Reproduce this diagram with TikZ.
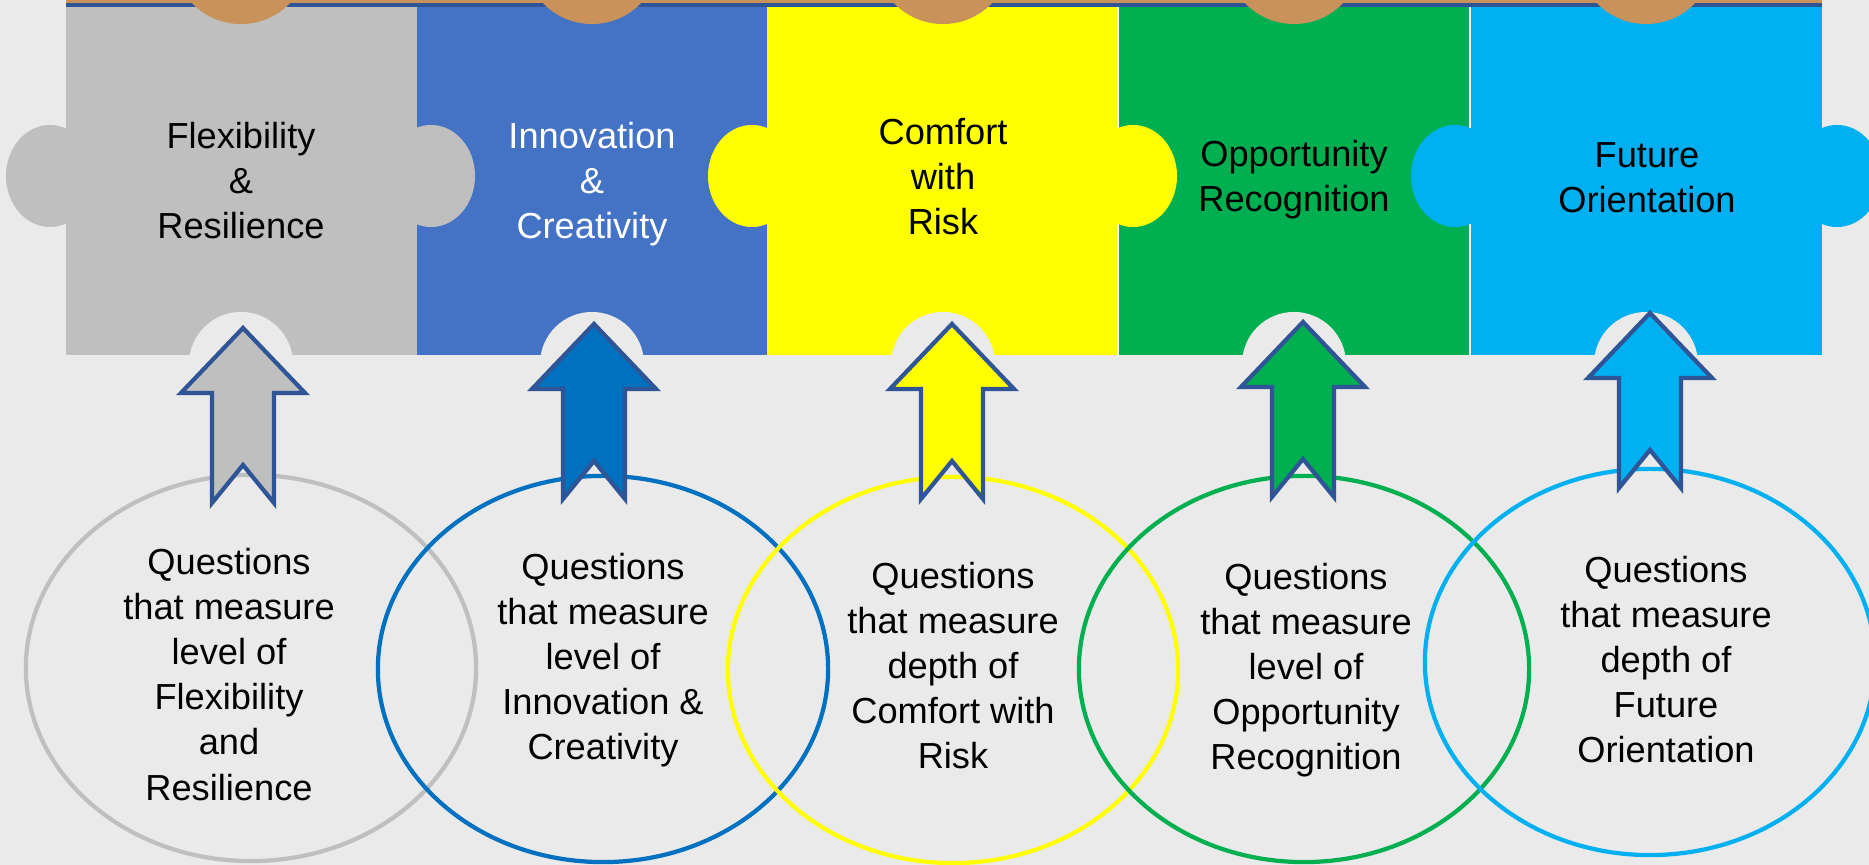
\documentclass[tikz,border=0pt]{standalone}
\usepackage{fontspec}
\setmainfont{Liberation Sans}
\usetikzlibrary{shapes.geometric}
\definecolor{paper}{HTML}{EAEAEA}
\definecolor{cork}{HTML}{C8925A}
\definecolor{rimblue}{HTML}{2F5597}
\definecolor{pgray}{HTML}{BFBFBF}
\definecolor{pblue}{HTML}{4472C4}
\definecolor{pyellow}{HTML}{FFFF00}
\definecolor{pgreen}{HTML}{00B050}
\definecolor{pcyan}{HTML}{00B0F0}
\definecolor{deepblue}{HTML}{0070C0}
\begin{document}
\begin{tikzpicture}[x=0.01cm,y=-0.01cm,
    txt/.style={align=center,inner sep=0pt,anchor=north,font=\fontsize{10.3}{12.8}\selectfont},
    ring/.style={ellipse,draw,line width=1.2pt,minimum width=4.5cm,minimum height=3.86cm,inner sep=0pt},
    uparrow/.style={draw=rimblue,line width=1.2pt,line join=miter}]
    \useasboundingbox (0,0) rectangle (1869,865);
    \clip (0,0) rectangle (1869,865);
    \fill[paper] (0,0) rectangle (1869,865);
    % puzzle pieces
    \fill[pgray] (66,5) rectangle (417,355);
    \fill[pblue] (417,5) rectangle (767,355);
    \fill[pyellow] (767,5) rectangle (1118,355);
    \fill[pgreen] (1118,5) rectangle (1470,355);
    \fill[pcyan] (1470,5) rectangle (1822,355);
    \draw[white, line width=0.4pt] (1118,7)--(1118,355) (1470,7)--(1470,355);
    % knobs
    \fill[pgray] (50,176) ellipse [x radius=0.44cm, y radius=0.51cm];
    \fill[pgray] (431,176) ellipse [x radius=0.44cm, y radius=0.51cm];
    \fill[pyellow] (752,176) ellipse [x radius=0.44cm, y radius=0.51cm];
    \fill[pyellow] (1133,176) ellipse [x radius=0.44cm, y radius=0.51cm];
    \fill[pcyan] (1455,176) ellipse [x radius=0.44cm, y radius=0.51cm];
    \fill[pcyan] (1837,176) ellipse [x radius=0.44cm, y radius=0.51cm];
    % sockets
    \fill[paper] (241,364) circle [radius=0.52cm];
    \fill[paper] (592,364) circle [radius=0.52cm];
    \fill[paper] (943,364) circle [radius=0.52cm];
    \fill[paper] (1294,364) circle [radius=0.52cm];
    \fill[paper] (1646,364) circle [radius=0.52cm];
    % cork board
    \draw[rimblue, line width=1pt] (66,5)--(1822,5);
    \fill[cork] (66,0) rectangle (1822,3.3);
    \fill[cork] (241,-44) circle [radius=0.68cm];
    \fill[cork] (592,-44) circle [radius=0.68cm];
    \fill[cork] (943,-44) circle [radius=0.68cm];
    \fill[cork] (1294,-44) circle [radius=0.68cm];
    \fill[cork] (1646,-44) circle [radius=0.68cm];
    \node[txt] (pflex) at (241,122) {Flexibility\\\&\\Resilience};
    \node[txt, white] (pinno) at (592,122) {Innovation\\\&\\Creativity};
    \node[txt] (prisk) at (943,118) {Comfort\\with\\Risk};
    \node[txt] (popp) at (1294,140) {Opportunity\\Recognition};
    \node[txt] (pfut) at (1647,142) {Future\\Orientation};
    % question rings
    \node[ring, draw=pgray] (qflex) at (251,668) {};
    \node[ring, draw=deepblue] (qinno) at (603,669) {};
    \node[ring, draw=pyellow] (qrisk) at (953,670) {};
    \node[ring, draw=pgreen] (qopp) at (1304,669) {};
    \node[ring, draw=pcyan] (qfut) at (1650,662) {};
    % arrows
    \coordinate (tipflex) at (243,328);
    \coordinate (tipinno) at (594,324);
    \coordinate (tiprisk) at (952,324);
    \coordinate (tipopp) at (1303,322);
    \coordinate (tipfut) at (1650,313);
    \draw[uparrow, fill=pgray] (tipflex) -- ++(62,65) -- ++(-31,0) -- ++(0,110) -- ++(-31,-38) -- ++(-31,38) -- ++(0,-110) -- ++(-31,0) -- cycle;
    \draw[uparrow, fill=deepblue] (tipinno) -- ++(62,65) -- ++(-31,0) -- ++(0,110) -- ++(-31,-38) -- ++(-31,38) -- ++(0,-110) -- ++(-31,0) -- cycle;
    \draw[uparrow, fill=pyellow] (tiprisk) -- ++(62,65) -- ++(-31,0) -- ++(0,110) -- ++(-31,-38) -- ++(-31,38) -- ++(0,-110) -- ++(-31,0) -- cycle;
    \draw[uparrow, fill=pgreen] (tipopp) -- ++(62,65) -- ++(-31,0) -- ++(0,110) -- ++(-31,-38) -- ++(-31,38) -- ++(0,-110) -- ++(-31,0) -- cycle;
    \draw[uparrow, fill=pcyan] (tipfut) -- ++(62,65) -- ++(-31,0) -- ++(0,110) -- ++(-31,-38) -- ++(-31,38) -- ++(0,-110) -- ++(-31,0) -- cycle;
    \node[txt] (tflex) at (229,548) {Questions\\that measure\\level of\\Flexibility\\and\\Resilience};
    \node[txt] (tinno) at (603,553) {Questions\\that measure\\level of\\Innovation \&\\Creativity};
    \node[txt] (trisk) at (953,562) {Questions\\that measure\\depth of\\Comfort with\\Risk};
    \node[txt] (topp) at (1306,563) {Questions\\that measure\\level of\\Opportunity\\Recognition};
    \node[txt] (tfut) at (1666,556) {Questions\\that measure\\depth of\\Future\\Orientation};
\end{tikzpicture}
\end{document}
